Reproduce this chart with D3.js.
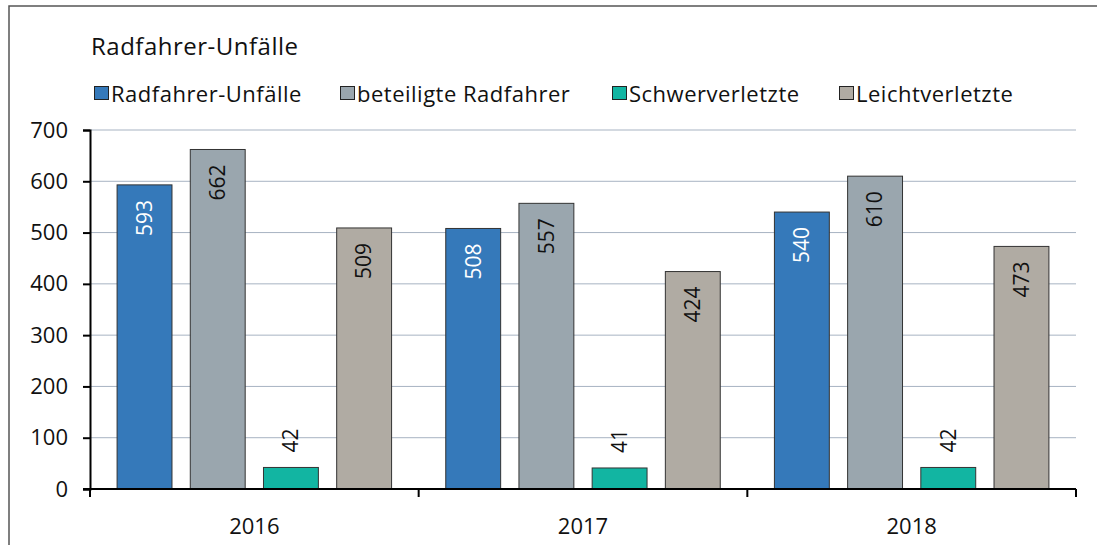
<!DOCTYPE html>
<html>
  <head>
    <meta charset="utf-8" />
    <title>Radfahrer-Unfälle</title>
    <script src="https://cdn.jsdelivr.net/npm/d3@7"></script>
    <style>
      body { margin: 0; background: #fff; }
      text { font-family: "Open Sans", sans-serif; }
    </style>
  </head>
  <body>
    <svg width="1097" height="545" id="mainsvg"></svg>
    <script>
      // data
      const years = ["2016", "2017", "2018"];
      const seriesNames = ["Radfahrer-Unfälle", "beteiligte Radfahrer", "Schwerverletzte", "Leichtverletzte"];
      const unfaelle = [593, 508, 540];
      const beteiligte = [662, 557, 610];
      const schwer = [42, 41, 42];
      const leicht = [509, 424, 473];
      const yTicks = [0, 100, 200, 300, 400, 500, 600, 700];

      const colors = ["#3579ba", "#9aa6ae", "#12b5a2", "#b0aba3"];
      const labelColors = ["#ffffff", "#111", "#111", "#111"];
      const allSeries = [unfaelle, beteiligte, schwer, leicht];

      const svg = d3.select("#mainsvg");
      const margin = { left: 90, top: 130, right: 21, bottom: 56 };
      const width = 1097, height = 545;
      const font = "'Open Sans', sans-serif";

      // frame lines (top + left)
      svg.append("path").attr("d", `M9,545 V6 H1097`).attr("fill", "none").attr("stroke", "#555").attr("stroke-width", 1.5);

      svg.append("text").attr("x", 91).attr("y", 55).attr("font-size", 24).attr("letter-spacing", 0.5)
        .attr("fill", "#111").text("Radfahrer-Unfälle");

      // legend
      const legendX = [94, 340, 612, 839];
      const lg = svg.selectAll(".leg").data(seriesNames).join("g").attr("class", "leg")
        .attr("transform", (d, i) => `translate(${legendX[i]},93)`);
      lg.append("rect").attr("x", 0.5).attr("y", -6.5).attr("width", 14).attr("height", 13)
        .attr("fill", (d, i) => colors[i]).attr("stroke", "#222").attr("stroke-width", 1);
      lg.append("text").attr("x", 17).attr("y", 1).attr("dy", "0.35em").attr("font-size", 22)
        .attr("letter-spacing", 0.5).attr("fill", "#111").text((d) => d);

      const x0 = d3.scaleBand().domain(years).range([margin.left, width - margin.right]).paddingInner(0).paddingOuter(0);
      const x1 = d3.scaleBand().domain(d3.range(4)).range([0, x0.bandwidth()]).paddingInner(0.25).paddingOuter(0.37);
      const y = d3.scaleLinear().domain([0, 700]).range([height - margin.bottom, margin.top]);

      // grid
      svg.append("g").selectAll("line").data(yTicks.slice(1)).join("line")
        .attr("x1", margin.left).attr("x2", width - margin.right)
        .attr("y1", (d) => y(d)).attr("y2", (d) => y(d))
        .attr("stroke", "#a7b3c2").attr("stroke-width", 1);

      // bars
      const rows = years.map((yr, i) => ({ yr, vals: allSeries.map((s) => s[i]) }));
      const grp = svg.selectAll(".grp").data(rows).join("g").attr("class", "grp")
        .attr("transform", (d) => `translate(${x0(d.yr)},0)`);
      grp.selectAll("rect").data((d) => d.vals).join("rect")
        .attr("x", (d, i) => x1(i)).attr("y", (d) => y(d))
        .attr("width", x1.bandwidth()).attr("height", (d) => y(0) - y(d))
        .attr("fill", (d, i) => colors[i]).attr("stroke", "#333").attr("stroke-width", 1);

      // labels (rotated)
      grp.selectAll("text").data((d) => d.vals).join("text")
        .attr("transform", (d, i) => {
          const cx = x1(i) + x1.bandwidth() / 2;
          const inside = d > 100;
          const ty = inside ? y(d) + 15 : y(d) - 15;
          return `translate(${cx},${ty}) rotate(-90)`;
        })
        .attr("text-anchor", (d) => (d > 100 ? "end" : "start"))
        .attr("dy", "0.35em")
        .attr("font-size", 21)
        .attr("fill", (d, i) => labelColors[i])
        .text((d) => d);

      // y axis
      const yAxis = svg.append("g").attr("transform", `translate(${margin.left},0)`)
        .call(d3.axisLeft(y).tickValues(yTicks).tickSize(7).tickPadding(15));
      yAxis.select(".domain").attr("stroke", "#000").attr("stroke-width", 2);
      yAxis.selectAll(".tick line").attr("stroke", "#000").attr("stroke-width", 2);
      yAxis.selectAll("text").attr("font-size", 22).attr("fill", "#111").attr("font-family", font);

      // x axis
      const xb = svg.append("g").attr("transform", `translate(0,${y(0)})`);
      xb.append("line").attr("x1", margin.left - 7).attr("x2", width - margin.right)
        .attr("stroke", "#000").attr("stroke-width", 2);
      const bounds = [margin.left, ...years.map((d) => x0(d) + x0.bandwidth())];
      xb.selectAll(".xt").data(bounds).join("line").attr("class", "xt")
        .attr("x1", (d) => d).attr("x2", (d) => d).attr("y1", 0).attr("y2", 8)
        .attr("stroke", "#000").attr("stroke-width", 2);
      xb.selectAll(".xl").data(years).join("text").attr("class", "xl")
        .attr("x", (d) => x0(d) + x0.bandwidth() / 2).attr("y", 45)
        .attr("text-anchor", "middle").attr("font-size", 22).attr("fill", "#111").text((d) => d);
    </script>
  </body>
</html>
